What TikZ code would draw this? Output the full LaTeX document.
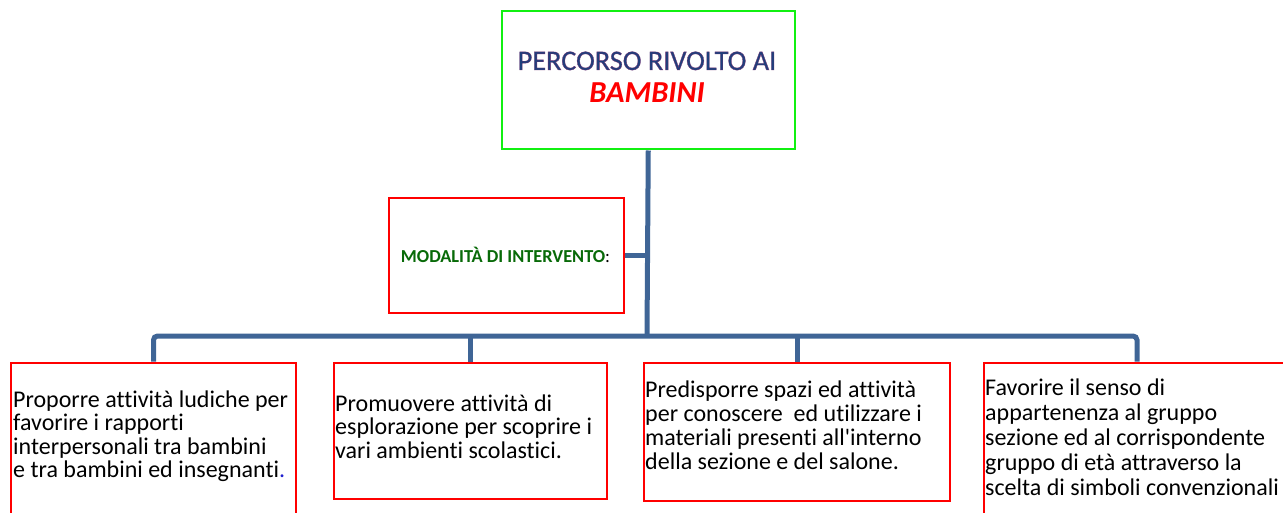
\documentclass[tikz,border=0pt]{standalone}
\usepackage{fontspec}
\setmainfont{Carlito}[Ligatures=NoCommon]
\definecolor{lineblue}{HTML}{3F6596}
\definecolor{boxred}{HTML}{FF0000}
\definecolor{boxgreen}{HTML}{11F011}
\definecolor{titleblue}{HTML}{1F3F7C}
\definecolor{modgreen}{HTML}{086A08}
\definecolor{dotblue}{HTML}{1F1FCF}
\tikzset{
  conn/.style={draw=lineblue, line width=5pt},
  redbox/.style={draw=boxred, line width=2pt, fill=white, anchor=north west, inner sep=0pt},
  greenbox/.style={draw=boxgreen, line width=2.5pt, fill=white, anchor=north west, inner sep=0pt},
  txt/.style={inner sep=0pt, anchor=base west, text=black},
}
\newcommand{\bodyfont}[1]{\fontsize{24}{#1}\selectfont}
\newcommand{\outlineon}{\special{pdf:literal direct 2 Tr 0.35 w 0.45 0.2 0.45 RG}}
\newcommand{\outlineoff}{\special{pdf:literal direct 0 Tr}}
\begin{document}
\begin{tikzpicture}[x=1pt,y=-1pt]
\useasboundingbox (0,0) rectangle (1283,513);
\clip (0,0) rectangle (1283,513);
% boxes
\node[greenbox, minimum width=293pt, minimum height=138pt] (top) at (500.5,10) {};
\node[redbox, minimum width=235pt, minimum height=115pt] (mod) at (388,197) {};
\node[redbox, minimum width=285pt, minimum height=180pt] (b1) at (10,361.5) {};
\node[redbox, minimum width=273pt, minimum height=136pt] (b2) at (333,361.5) {};
\node[redbox, minimum width=306pt, minimum height=138pt] (b3) at (643,361.5) {};
\node[redbox, minimum width=306pt, minimum height=180pt] (b4) at (983,361.5) {};
\coordinate (bus) at (647,336);
% connectors
\draw[conn] (top.south) -- (bus);
\draw[conn] (mod.east) -- (mod.east -| bus);
\draw[conn, rounded corners=4pt] (b1.north) |- (bus) -| (b4.north);
\draw[conn] (b2.north) -- (b2.north |- bus);
\draw[conn] (b3.north) -- (b3.north |- bus);
% texts
\node[inner sep=0pt, anchor=base, text=titleblue] (title) at (647,70)
  {\parbox[t]{290pt}{\centering\fontsize{28.3}{32.5}\selectfont\leavevmode\outlineon PERCORSO RIVOLTO AI\outlineoff\\
   {\fontsize{30.5}{32.5}\selectfont\bfseries\itshape\color{boxred}BAMBINI}}};
\node[inner sep=0pt, anchor=base] (modtxt) at (505.5,263)
  {\fontsize{18.3}{20}\selectfont{\bfseries\color{modgreen}MODALITÀ DI INTERVENTO}:};
\node[txt] (t1) at (13,407.5) {\parbox[t]{400pt}{\bodyfont{23.3} Proporre attività ludiche per\\
  favorire i rapporti\\ interpersonali tra bambini\\ e tra bambini ed insegnanti{\color{dotblue}.}}};
\node[txt] (t2) at (335,411) {\parbox[t]{400pt}{\bodyfont{23.5} Promuovere attività di\\
  esplorazione per scoprire i\\ vari ambienti scolastici.}};
\node[txt] (t3) at (645,397) {\parbox[t]{400pt}{\bodyfont{24} Predisporre spazi ed attività\\
  per conoscere\ \ ed utilizzare i\\ materiali presenti all\textquotesingle interno\\ della sezione e del salone.}};
\node[txt] (t4) at (985,395) {\parbox[t]{400pt}{\bodyfont{25.2} Favorire il senso di\\
  appartenenza al gruppo\\ sezione ed al corrispondente\\ gruppo di età attraverso la\\ scelta di simboli convenzionali}};
\end{tikzpicture}
\end{document}
